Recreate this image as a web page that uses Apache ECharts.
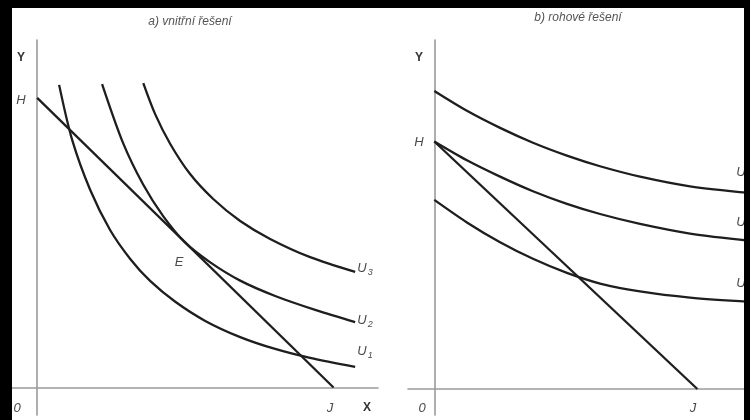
<!DOCTYPE html>
<html>
<head>
<meta charset="utf-8">
<script src="https://cdn.jsdelivr.net/npm/echarts@6/dist/echarts.min.js"></script>
<style>
  html, body { margin: 0; padding: 0; background: #fff; }
  #chart { width: 750px; height: 420px; }
</style>
</head>
<body>
<div id="chart"></div>
<script>
// a) vnitrni reseni - rozpoctova primka H-J a indiferencni krivky
var budgetA = [[0, 10], [10, 0]]
var u1A = [[0.74, 10.45], [1.18, 8.55], [1.79, 6.82], [2.46, 5.44], [3.14, 4.44], [3.81, 3.68], [4.66, 2.96], [5.67, 2.3], [6.85, 1.74], [8.03, 1.33], [9.21, 1.02], [10.73, 0.71]]
var u2A = [[2.19, 10.48], [2.9, 8.44], [3.58, 7.0], [4.25, 5.92], [4.99, 5.01], [5.84, 4.32], [6.85, 3.69], [8.03, 3.16], [9.38, 2.68], [10.73, 2.26]]
var u3A = [[3.58, 10.51], [3.98, 9.44], [4.49, 8.41], [5.16, 7.37], [5.94, 6.51], [6.85, 5.75], [7.86, 5.13], [9.21, 4.5], [10.73, 3.99]]

// b) rohove reseni
var budgetB = [[0, 10], [10, 0]]
var u1B = [[0, 7.64], [1.24, 6.73], [2.5, 5.93], [3.75, 5.26], [5.04, 4.69], [6.3, 4.26], [7.82, 3.94], [9.72, 3.69], [11.99, 3.52]]
var u2B = [[0, 10], [1.24, 9.24], [2.5, 8.58], [3.75, 7.99], [5.04, 7.48], [6.3, 7.07], [7.82, 6.67], [9.72, 6.28], [11.99, 5.99]]
var u3B = [[0, 12.04], [1.24, 11.24], [2.5, 10.55], [3.75, 9.95], [5.04, 9.43], [6.3, 9.0], [7.82, 8.58], [9.72, 8.19], [11.99, 7.92]]

var myChart = echarts.init(document.getElementById('chart'), null, { renderer: 'canvas' })

var axisColor = '#9a9a9a'
var lineColor = '#1e1e1e'
var txtColor = '#4a4a4a'

function axis(idx, min, max) {
  return {
    type: 'value',
    gridIndex: idx,
    min: min,
    max: max,
    axisLine: { show: true, onZero: true, lineStyle: { color: axisColor, width: 1.6 } },
    axisTick: { show: false },
    axisLabel: { show: false },
    splitLine: { show: false }
  }
}

function curve(data, idx, smooth) {
  return {
    type: 'line',
    xAxisIndex: idx,
    yAxisIndex: idx,
    data: data,
    smooth: smooth,
    symbol: 'none',
    silent: true,
    lineStyle: { color: lineColor, width: 2.3 }
  }
}

function label(text, x, y, opt) {
  opt = opt || {}
  return {
    type: 'text',
    x: x,
    y: y,
    z: 10,
    style: {
      text: text,
      fill: opt.fill || txtColor,
      font: opt.font || 'italic 13px "Liberation Sans", Arial, sans-serif',
      textAlign: 'center',
      textVerticalAlign: 'middle',
      rich: {
        s: { fontSize: 9, fontStyle: 'italic', fill: txtColor, padding: [8, 0, 0, 1] }
      }
    }
  }
}

var bold = 'bold 12px "Liberation Sans", Arial, sans-serif'
var title = 'italic 12px "Liberation Sans", Arial, sans-serif'

var option = {
  backgroundColor: '#fff',
  animation: false,
  grid: [
    { left: 12, right: 372, top: 40, bottom: 5 },
    { left: 408, right: 0, top: 40, bottom: 5 }
  ],
  xAxis: [axis(0, -0.85, 11.5), axis(1, -1, 12)],
  yAxis: [axis(0, -0.95, 12), axis(1, -1.05, 14.1)],
  series: [
    curve(budgetA, 0, false),
    curve(u1A, 0, 0.3),
    curve(u2A, 0, 0.3),
    curve(u3A, 0, 0.3),
    curve(budgetB, 1, false),
    curve(u1B, 1, 0.3),
    curve(u2B, 1, 0.3),
    curve(u3B, 1, 0.3)
  ],
  graphic: [
    label('a) vnitřní řešení', 190, 22, { font: title, fill: '#555' }),
    label('b) rohové řešení', 578, 18, { font: title, fill: '#555' }),
    // panel a
    label('Y', 21, 58, { font: bold, fill: '#333' }),
    label('H', 21, 100),
    label('0', 17, 408),
    label('J', 330, 408),
    label('X', 367, 408, { font: bold, fill: '#333' }),
    label('E', 179, 262),
    label('U{s|3}', 365, 268),
    label('U{s|2}', 365, 320),
    label('U{s|1}', 365, 351),
    // panel b
    label('Y', 419, 58, { font: bold, fill: '#333' }),
    label('H', 419, 142),
    label('0', 422, 408),
    label('J', 693, 408),
    label('X', 750, 408, { font: bold, fill: '#333' }),
    label('U{s|3}', 744, 172),
    label('U{s|2}', 744, 222),
    label('U{s|1}', 744, 283),
    // cerny okraj fotky
    { type: 'rect', z: 20, shape: { x: 0, y: 0, width: 750, height: 8 }, style: { fill: '#000' } },
    { type: 'rect', z: 20, shape: { x: 0, y: 0, width: 12, height: 420 }, style: { fill: '#000' } },
    { type: 'rect', z: 20, shape: { x: 744, y: 0, width: 6, height: 420 }, style: { fill: '#000' } }
  ]
}

option && myChart.setOption(option)
</script>
</body>
</html>
